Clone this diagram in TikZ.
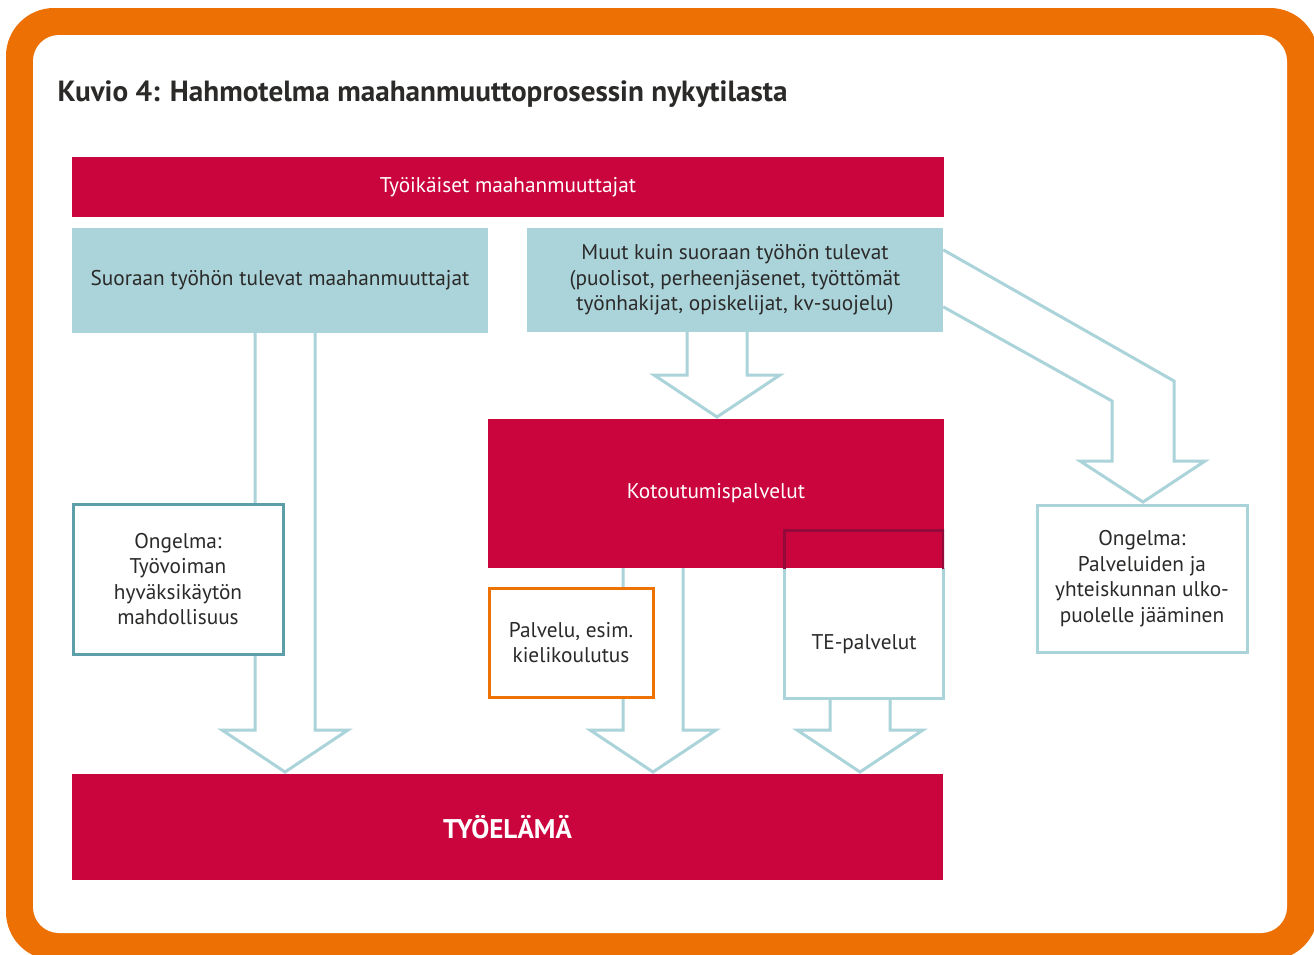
\documentclass[tikz,border=0pt]{standalone}
\usepackage{fontspec}
\setmainfont{PT Sans}
\usetikzlibrary{calc}

\definecolor{kred}{HTML}{CA043C}
\definecolor{kdarkred}{HTML}{94083A}
\definecolor{kblue}{HTML}{AAD3DA}
\definecolor{kteal}{HTML}{5C9FA8}
\definecolor{korange}{HTML}{EE7203}
\definecolor{kframe}{HTML}{ED7004}
\definecolor{kdark}{HTML}{2B2A29}

% hollow block arrow: from node anchor #1 down to tip coordinate #2
\newcommand{\blockarrow}[2]{%
  \draw[hollow] let \p1=(#2), \p2=(#1) in
    (\x1-30pt,\y2) -- (\x1-30pt,\y1+42pt) -- (\x1-63pt,\y1+42pt) -- (\x1,\y1)
    -- (\x1+63pt,\y1+42pt) -- (\x1+30pt,\y1+42pt) -- (\x1+30pt,\y2);}

\begin{document}
\begin{tikzpicture}[x=1pt, y=-1pt,
        txt/.style={font=\fontsize{21.3}{25.5}\selectfont, text=kdark, align=center},
        redbox/.style={fill=kred, text=white, font=\fontsize{21.3}{25.5}\selectfont, align=center, inner sep=0pt},
        bluebox/.style={fill=kblue, txt, inner sep=0pt},
        probbox/.style={draw=#1, line width=3pt, fill=white, txt, inner sep=0pt},
        hollow/.style={draw=kblue, line width=3pt}]

        \useasboundingbox (0,0) rectangle (1314,954);
        \fill[kframe, rounded corners=48pt] (6,8) rectangle (1318,960);
        \fill[white, rounded corners=26pt] (33,35) rectangle (1287,933);

        \node[anchor=base west, font=\fontsize{29.2}{34}\selectfont\bfseries, text=kdark] (title) at (54,101)
                {Kuvio 4: Hahmotelma maahanmuuttoprosessin nykytilasta};

        \node[redbox, minimum width=872pt, minimum height=60pt] (ikaiset) at (508,187) {Työikäiset maahanmuuttajat};
        \node[bluebox, minimum width=416pt, minimum height=105pt] (suora) at (280,280.5) {Suoraan työhön tulevat maahanmuuttajat};
        \node[bluebox, minimum width=416pt, minimum height=104pt] (muut) at (735,280)
                {Muut kuin suoraan työhön tulevat\\(puolisot, perheenjäsenet, työttömät\\työnhakijat, opiskelijat, kv-suojelu)};
        \node[redbox, minimum width=456pt, minimum height=149pt] (koto) at (716,493.5) {Kotoutumispalvelut};
        \node[redbox, minimum width=871pt, minimum height=106pt, font=\fontsize{27}{32}\selectfont\bfseries] (tyo) at (507.5,827) {TYÖELÄMÄ};

        % arrow tips
        \coordinate (tipA) at (285,772);
        \coordinate (tipB) at (717,417);
        \coordinate (tipC) at (653,772);
        \coordinate (tipD) at (860,772);
        \coordinate (tipE) at (1143,502);

        \blockarrow{suora.south}{tipA}
        \blockarrow{muut.south}{tipB}
        \blockarrow{koto.south}{tipC}

        \draw[hollow] let \p1=(tipE) in
                ($(muut.north east)+(0,22)$) -- (1174,381) -- (\x1+31pt,\y1+41pt) -- (\x1+62pt,\y1+41pt) -- (tipE)
                -- (\x1-63pt,\y1+41pt) -- (\x1-31pt,\y1+41pt) -- (1112,401) -- ($(muut.north east)+(0,79)$);

        \node[probbox=kteal, minimum width=210pt, minimum height=150pt] (ongelma1) at (178,579)
                {Ongelma:\\Työvoiman\\hyväksikäytön\\mahdollisuus};
        \node[probbox=korange, minimum width=164pt, minimum height=109pt] (palvelu) at (571,642.5)
                {Palvelu, esim.\\kielikoulutus};
        \node[probbox=kblue, minimum width=210pt, minimum height=147pt] (ongelma2) at (1142,578.5)
                {Ongelma:\\Palveluiden ja\\yhteiskunnan ulko-\\puolelle jääminen};

        % TE box: light blue below, darker where it lies on the red box
        \node[line width=3pt, minimum width=156pt, minimum height=165pt, inner sep=0pt] (te) at (864,614.5) {};
        \begin{scope}
                \clip ($(koto.south west)+(0,0)$) rectangle (1314,954);
                \draw[kblue, line width=3pt] (te.south west) rectangle (te.north east);
        \end{scope}
        \begin{scope}
                \clip (koto.south west) rectangle (koto.north east);
                \draw[kdarkred, line width=3pt] (te.south west) rectangle (te.north east);
        \end{scope}
        \node[txt] (telabel) at (864,644) {TE-palvelut};

        \blockarrow{te.south}{tipD}

\end{tikzpicture}
\end{document}
